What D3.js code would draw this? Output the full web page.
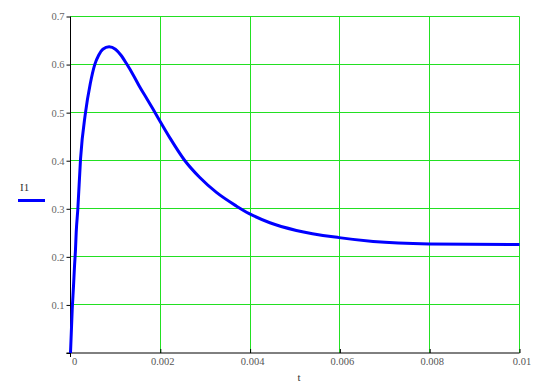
<!DOCTYPE html>
<html>
<head>
<meta charset="utf-8">
<script src="https://cdn.jsdelivr.net/npm/d3@7"></script>
<style>
  body { margin: 0; background: #fff; }
  svg { display: block; }
</style>
</head>
<body>
<div id="wrapper"></div>
<script>
// values
const tValues = [0, 0.000038, 0.000067, 0.000089, 0.000111, 0.000127, 0.000163,
  0.000223, 0.000334, 0.00044, 0.00054, 0.00063, 0.00072, 0.00086, 0.001,
  0.00112, 0.00126, 0.0014, 0.00154, 0.0017, 0.00184, 0.002, 0.00221, 0.00254,
  0.00288, 0.00325, 0.00369, 0.00398, 0.00444, 0.00503, 0.00598, 0.00674,
  0.00799, 0.01]
const i1Values = [0, 0.09, 0.139, 0.18, 0.215, 0.251, 0.299,
  0.403, 0.5, 0.56, 0.6, 0.62, 0.632, 0.637, 0.632,
  0.62, 0.6, 0.578, 0.554, 0.529, 0.507, 0.481, 0.448, 0.401,
  0.365, 0.334, 0.306, 0.29, 0.271, 0.255, 0.24, 0.232,
  0.227, 0.2256]
const xTicks = [0, 0.002, 0.004, 0.006, 0.008, 0.01]
const xTickLabels = ["0", "0.002", "0.004", "0.006", "0.008", "0.01"]
const yTicks = [0, 0.1, 0.2, 0.3, 0.4, 0.5, 0.6, 0.7]
const yTickLabels = ["", "0.1", "0.2", "0.3", "0.4", "0.5", "0.6", "0.7"]
const seriesName = "I1"
const xTitle = "t"

const data = tValues.map((t, i) => ({ t: t, v: i1Values[i] }))
const xAccessor = (d) => d.t
const yAccessor = (d) => d.v

let dimensions = {
  width: 544,
  height: 387,
  margins: { top: 16.5, right: 24.5, bottom: 34, left: 70.5 },
}
dimensions.boundedWidth =
  dimensions.width - dimensions.margins.left - dimensions.margins.right
dimensions.boundedHeight =
  dimensions.height - dimensions.margins.top - dimensions.margins.bottom

const wrapper = d3.select("#wrapper")
  .append("svg")
  .attr("width", dimensions.width)
  .attr("height", dimensions.height)

const bounds = wrapper.append("g")
  .attr("transform", `translate(${dimensions.margins.left}, ${dimensions.margins.top})`)

const xScale = d3.scaleLinear()
  .domain([0, 0.01])
  .range([0, dimensions.boundedWidth])

const yScale = d3.scaleLinear()
  .domain([0, 0.7])
  .range([dimensions.boundedHeight, 0])

const gridColor = "#22e022"
const labelFont = "'Liberation Serif', 'Times New Roman', serif"

// grid
bounds.append("g")
  .selectAll("line")
  .data(yTicks.slice(1))
  .join("line")
  .attr("x1", 0)
  .attr("x2", dimensions.boundedWidth)
  .attr("y1", (d) => Math.round(yScale(d)))
  .attr("y2", (d) => Math.round(yScale(d)))
  .attr("stroke", gridColor)
  .attr("stroke-width", 1)

bounds.append("g")
  .selectAll("line")
  .data(xTicks.slice(1))
  .join("line")
  .attr("x1", (d) => Math.round(xScale(d)))
  .attr("x2", (d) => Math.round(xScale(d)))
  .attr("y1", 0)
  .attr("y2", dimensions.boundedHeight)
  .attr("stroke", gridColor)
  .attr("stroke-width", 1)

// axes
const yAxisGenerator = d3.axisLeft(yScale)
  .tickValues(yTicks)
  .tickFormat((d, i) => yTickLabels[i])
  .tickSize(4)
  .tickSizeOuter(0)
  .tickPadding(2)

const yAxis = bounds.append("g").call(yAxisGenerator)
yAxis.select(".domain").remove()
yAxis.selectAll(".tick line").attr("stroke", "#000")
yAxis.selectAll(".tick text")
  .attr("fill", "#666")
  .style("font-family", labelFont)
  .style("font-size", "10.5px")

const xAxisGenerator = d3.axisBottom(xScale)
  .tickValues(xTicks)
  .tickFormat((d, i) => xTickLabels[i])
  .tickSize(-4)
  .tickSizeOuter(0)
  .tickPadding(5)

const xAxis = bounds.append("g")
  .attr("transform", `translate(0, ${dimensions.boundedHeight})`)
  .call(xAxisGenerator)
xAxis.select(".domain").remove()
xAxis.selectAll(".tick line").attr("stroke", "#000")
xAxis.selectAll(".tick text")
  .attr("fill", "#555")
  .attr("dx", (d, i) => (i === 0 ? 3.5 : 2))
  .style("font-family", labelFont)
  .style("font-size", "10.5px")

// axis lines
bounds.append("line")
  .attr("x1", 0).attr("x2", 0)
  .attr("y1", 0).attr("y2", dimensions.boundedHeight + 4)
  .attr("stroke", "#000")
bounds.append("line")
  .attr("x1", -4).attr("x2", dimensions.boundedWidth)
  .attr("y1", dimensions.boundedHeight).attr("y2", dimensions.boundedHeight)
  .attr("stroke", "#000")

// series
const lineGenerator = d3.line()
  .x((d) => xScale(xAccessor(d)))
  .y((d) => yScale(yAccessor(d)))
  .curve(d3.curveMonotoneX)

bounds.append("path")
  .attr("d", lineGenerator(data))
  .attr("fill", "none")
  .attr("stroke", "#0000ff")
  .attr("stroke-width", 3)

// legend
wrapper.append("text")
  .attr("x", 20)
  .attr("y", 191)
  .text(seriesName)
  .attr("fill", "#333")
  .style("font-family", labelFont)
  .style("font-size", "11px")

wrapper.append("line")
  .attr("x1", 18).attr("x2", 45)
  .attr("y1", 200.5).attr("y2", 200.5)
  .attr("stroke", "#0000ff")
  .attr("stroke-width", 3)

// x title
wrapper.append("text")
  .attr("x", 299)
  .attr("y", 381)
  .attr("text-anchor", "middle")
  .text(xTitle)
  .attr("fill", "#333")
  .style("font-family", labelFont)
  .style("font-size", "11px")
</script>
</body>
</html>
